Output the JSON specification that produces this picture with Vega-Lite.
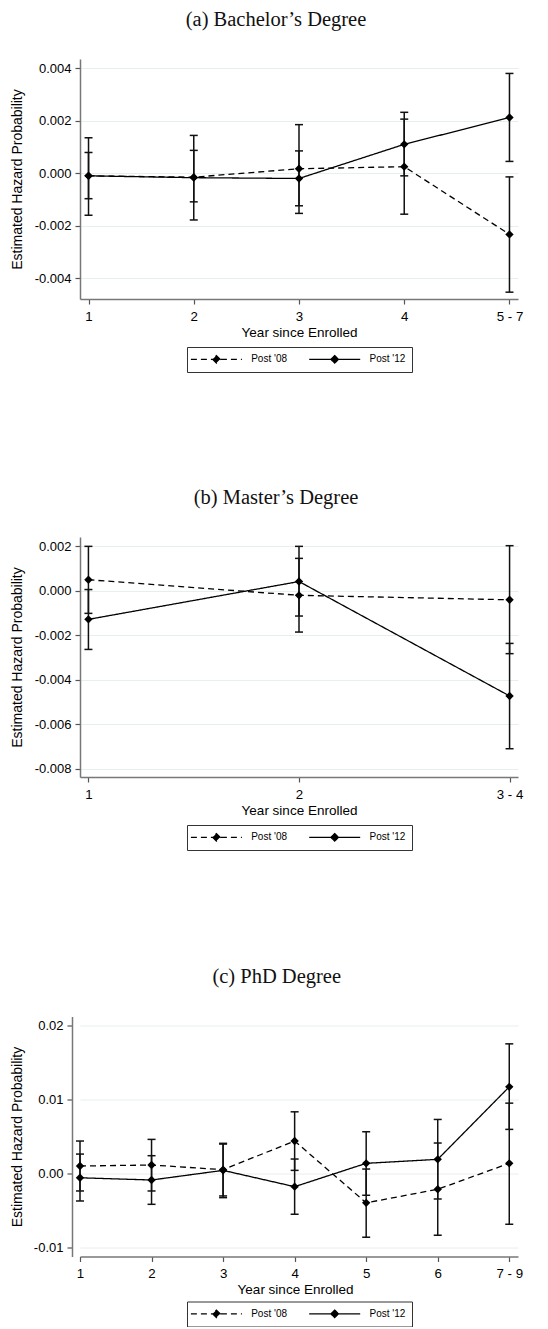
{
  "$schema": "https://vega.github.io/schema/vega-lite/v6.json",
  "padding": {"left": 10, "top": 9, "right": 5, "bottom": 0},
  "datasets": {
    "a": [
      {"year": "1", "series": "Post '08", "est": -0.0001, "lo": -0.00097, "hi": 0.00079},
      {"year": "1", "series": "Post '12", "est": -0.0001, "lo": -0.0016, "hi": 0.00135},
      {"year": "2", "series": "Post '08", "est": -0.00015, "lo": -0.00109, "hi": 0.00087},
      {"year": "2", "series": "Post '12", "est": -0.00017, "lo": -0.00178, "hi": 0.00144},
      {"year": "3", "series": "Post '08", "est": 0.00017, "lo": -0.00153, "hi": 0.00185},
      {"year": "3", "series": "Post '12", "est": -0.0002, "lo": -0.00124, "hi": 0.00085},
      {"year": "4", "series": "Post '08", "est": 0.00025, "lo": -0.00156, "hi": 0.00206},
      {"year": "4", "series": "Post '12", "est": 0.0011, "lo": -0.0001, "hi": 0.00232},
      {"year": "5 - 7", "series": "Post '08", "est": -0.00233, "lo": -0.00453, "hi": -0.00014},
      {"year": "5 - 7", "series": "Post '12", "est": 0.00212, "lo": 0.00045, "hi": 0.0038}
    ],
    "b": [
      {"year": "1", "series": "Post '08", "est": 0.0005, "lo": -0.00101, "hi": 0.002},
      {"year": "1", "series": "Post '12", "est": -0.00128, "lo": -0.00263, "hi": 0.00006},
      {"year": "2", "series": "Post '08", "est": -0.0002, "lo": -0.00185, "hi": 0.00146},
      {"year": "2", "series": "Post '12", "est": 0.00042, "lo": -0.00113, "hi": 0.002},
      {"year": "3 - 4", "series": "Post '08", "est": -0.0004, "lo": -0.00282, "hi": 0.00203},
      {"year": "3 - 4", "series": "Post '12", "est": -0.00472, "lo": -0.00709, "hi": -0.00236}
    ],
    "c": [
      {"year": "1", "series": "Post '08", "est": 0.00099, "lo": -0.00238, "hi": 0.00436},
      {"year": "1", "series": "Post '12", "est": -0.0006, "lo": -0.00373, "hi": 0.0026},
      {"year": "2", "series": "Post '08", "est": 0.00112, "lo": -0.00238, "hi": 0.00458},
      {"year": "2", "series": "Post '12", "est": -0.0009, "lo": -0.00418, "hi": 0.00238},
      {"year": "3", "series": "Post '08", "est": 0.0005, "lo": -0.00305, "hi": 0.00405},
      {"year": "3", "series": "Post '12", "est": 0.0004, "lo": -0.00328, "hi": 0.00395},
      {"year": "4", "series": "Post '08", "est": 0.00436, "lo": 0.0004, "hi": 0.0083},
      {"year": "4", "series": "Post '12", "est": -0.0018, "lo": -0.00552, "hi": 0.00193},
      {"year": "5", "series": "Post '08", "est": -0.00398, "lo": -0.00862, "hi": 0.00058},
      {"year": "5", "series": "Post '12", "est": 0.00135, "lo": -0.00296, "hi": 0.00561},
      {"year": "6", "series": "Post '08", "est": -0.00215, "lo": -0.00835, "hi": 0.00409},
      {"year": "6", "series": "Post '12", "est": 0.00189, "lo": -0.00346, "hi": 0.00727},
      {"year": "7 - 9", "series": "Post '08", "est": 0.00135, "lo": -0.00687, "hi": 0.00947},
      {"year": "7 - 9", "series": "Post '12", "est": 0.01167, "lo": 0.00593, "hi": 0.01747}
    ]
  },
  "concat": [
    {
      "columns": 1,
      "align": "none",
      "spacing": 114,
      "resolve": {"scale": {"strokeDash": "independent"}, "legend": {"strokeDash": "independent"}},
      "concat": [
        {
          "data": {"name": "a"},
          "title": {"text": "(a) Bachelor’s Degree", "dx": -23},
          "width": 438,
          "height": 240,
          "encoding": {
            "x": {"field": "year", "type": "ordinal", "sort": null, "scale": {"type": "point", "padding": 0.081}, "axis": {"title": "Year since Enrolled"}}
          },
          "layer": [
            {"mark": {"type": "rule", "color": "#111", "strokeWidth": 1.5},
             "encoding": {"y": {"field": "lo", "type": "quantitative", "title": "Estimated Hazard Probability", "scale": {"domain": [-0.00479, 0.00435], "nice": false, "zero": false},
               "axis": {"values": [-0.004, -0.002, 0, 0.002, 0.004], "labelExpr": "(datum.value < 0 ? '-' : '') + format(abs(datum.value), '.3f')", "minExtent": 46, "maxExtent": 46}},
               "y2": {"field": "hi"}}},
            {"mark": {"type": "tick", "orient": "horizontal", "color": "#111", "size": 8, "thickness": 1.5, "opacity": 1},
             "encoding": {"y": {"field": "lo", "type": "quantitative", "title": "Estimated Hazard Probability", "scale": {"domain": [-0.00479, 0.00435], "nice": false, "zero": false}}}},
            {"mark": {"type": "tick", "orient": "horizontal", "color": "#111", "size": 8, "thickness": 1.5, "opacity": 1},
             "encoding": {"y": {"field": "hi", "type": "quantitative", "title": "Estimated Hazard Probability", "scale": {"domain": [-0.00479, 0.00435], "nice": false, "zero": false}}}},
            {"mark": {"type": "line", "color": "black", "strokeWidth": 1.3},
             "encoding": {"y": {"field": "est", "type": "quantitative", "title": "Estimated Hazard Probability", "scale": {"domain": [-0.00479, 0.00435], "nice": false, "zero": false}},
               "strokeDash": {"field": "series", "type": "nominal", "scale": {"domain": ["Post '08", "Post '12"], "range": [[6, 4], [1, 0]]}, "legend": {"title": null}}}},
            {"mark": {"type": "point", "shape": "diamond", "filled": true, "size": 70, "color": "black", "opacity": 1},
             "encoding": {"y": {"field": "est", "type": "quantitative", "title": "Estimated Hazard Probability", "scale": {"domain": [-0.00479, 0.00435], "nice": false, "zero": false}}}}
          ]
        },
        {
          "data": {"name": "b"},
          "title": {"text": "(b) Master’s Degree", "dx": -23},
          "width": 438,
          "height": 240,
          "encoding": {
            "x": {"field": "year", "type": "ordinal", "sort": null, "scale": {"type": "point", "padding": 0.04}, "axis": {"title": "Year since Enrolled"}}
          },
          "layer": [
            {"mark": {"type": "rule", "color": "#111", "strokeWidth": 1.5},
             "encoding": {"y": {"field": "lo", "type": "quantitative", "title": "Estimated Hazard Probability", "scale": {"domain": [-0.00836, 0.00242], "nice": false, "zero": false},
               "axis": {"values": [-0.008, -0.006, -0.004, -0.002, 0, 0.002], "labelExpr": "(datum.value < 0 ? '-' : '') + format(abs(datum.value), '.3f')", "minExtent": 46, "maxExtent": 46}},
               "y2": {"field": "hi"}}},
            {"mark": {"type": "tick", "orient": "horizontal", "color": "#111", "size": 8, "thickness": 1.5, "opacity": 1},
             "encoding": {"y": {"field": "lo", "type": "quantitative", "title": "Estimated Hazard Probability", "scale": {"domain": [-0.00836, 0.00242], "nice": false, "zero": false}}}},
            {"mark": {"type": "tick", "orient": "horizontal", "color": "#111", "size": 8, "thickness": 1.5, "opacity": 1},
             "encoding": {"y": {"field": "hi", "type": "quantitative", "title": "Estimated Hazard Probability", "scale": {"domain": [-0.00836, 0.00242], "nice": false, "zero": false}}}},
            {"mark": {"type": "line", "color": "black", "strokeWidth": 1.3},
             "encoding": {"y": {"field": "est", "type": "quantitative", "title": "Estimated Hazard Probability", "scale": {"domain": [-0.00836, 0.00242], "nice": false, "zero": false}},
               "strokeDash": {"field": "series", "type": "nominal", "scale": {"domain": ["Post '08", "Post '12"], "range": [[6, 4], [1, 0]]}, "legend": {"title": null}}}},
            {"mark": {"type": "point", "shape": "diamond", "filled": true, "size": 70, "color": "black", "opacity": 1},
             "encoding": {"y": {"field": "est", "type": "quantitative", "title": "Estimated Hazard Probability", "scale": {"domain": [-0.00836, 0.00242], "nice": false, "zero": false}}}}
          ]
        }
      ]
    },
    {
      "data": {"name": "c"},
      "title": {"text": "(c) PhD Degree", "dx": -22.3},
      "width": 438,
      "height": 240,
      "encoding": {
        "x": {"field": "year", "type": "ordinal", "sort": null, "scale": {"type": "point", "padding": 0.061, "align": 0}, "axis": {"title": "Year since Enrolled", "titleX": 215}}
      },
      "layer": [
        {"mark": {"type": "rule", "color": "#111", "strokeWidth": 1.5},
         "encoding": {"y": {"field": "lo", "type": "quantitative", "title": "Estimated Hazard Probability", "scale": {"domain": [-0.01122, 0.02116], "nice": false, "zero": false},
           "axis": {"values": [-0.01, 0, 0.01, 0.02], "labelExpr": "(datum.value < 0 ? '-' : '') + format(abs(datum.value), '.2f')", "offset": 8, "minExtent": 38, "maxExtent": 38}},
           "y2": {"field": "hi"}}},
        {"mark": {"type": "tick", "orient": "horizontal", "color": "#111", "size": 8, "thickness": 1.5, "opacity": 1},
         "encoding": {"y": {"field": "lo", "type": "quantitative", "title": "Estimated Hazard Probability", "scale": {"domain": [-0.01122, 0.02116], "nice": false, "zero": false}}}},
        {"mark": {"type": "tick", "orient": "horizontal", "color": "#111", "size": 8, "thickness": 1.5, "opacity": 1},
         "encoding": {"y": {"field": "hi", "type": "quantitative", "title": "Estimated Hazard Probability", "scale": {"domain": [-0.01122, 0.02116], "nice": false, "zero": false}}}},
        {"mark": {"type": "line", "color": "black", "strokeWidth": 1.3},
         "encoding": {"y": {"field": "est", "type": "quantitative", "title": "Estimated Hazard Probability", "scale": {"domain": [-0.01122, 0.02116], "nice": false, "zero": false}},
           "strokeDash": {"field": "series", "type": "nominal", "scale": {"domain": ["Post '08", "Post '12"], "range": [[6, 4], [1, 0]]}, "legend": {"title": null, "offset": 5}}}},
        {"mark": {"type": "point", "shape": "diamond", "filled": true, "size": 70, "color": "black", "opacity": 1},
         "encoding": {"y": {"field": "est", "type": "quantitative", "title": "Estimated Hazard Probability", "scale": {"domain": [-0.01122, 0.02116], "nice": false, "zero": false}}}}
      ]
    }
  ],
  "columns": 1,
  "align": "none",
  "spacing": 115.5,
  "resolve": {"scale": {"strokeDash": "independent"}, "legend": {"strokeDash": "independent"}},
  "config": {
    "font": "Liberation Sans",
    "view": {"stroke": null},
    "axis": {
      "domainColor": "#777", "domainWidth": 1.5, "tickColor": "#555", "tickWidth": 1.2, "tickSize": 5,
      "labelColor": "#000", "titleColor": "#000", "labelFont": "Liberation Sans", "titleFont": "Liberation Sans",
      "labelFontSize": 13, "titleFontSize": 13.5, "titleFontWeight": "normal"
    },
    "axisY": {"grid": true, "gridColor": "#e6eeef", "gridWidth": 1, "labelPadding": 4, "titlePadding": 10, "titleFontSize": 14},
    "axisX": {"grid": false, "labelPadding": 5, "titlePadding": 3, "labelAngle": 0, "labelFontSize": 13.3},
    "title": {"font": "Liberation Serif", "fontSize": 20.5, "fontWeight": "normal", "color": "#111", "anchor": "middle", "offset": 28.6},
    "legend": {
      "orient": "bottom",
      "direction": "horizontal",
      "layout": {"bottom": {"anchor": "middle"}},
      "offset": 8,
      "padding": 6,
      "strokeColor": "#333",
      "symbolType": "M-5.1,0L5.1,0M0,-0.75L0.75,0L0,0.75L-0.75,0Z",
      "symbolSize": 100,
      "symbolOffset": 17.4,
      "symbolStrokeWidth": 1.3,
      "symbolStrokeColor": "black",
      "symbolFillColor": "black",
      "labelOffset": 28.8,
      "labelFont": "Liberation Sans",
      "labelFontSize": 10,
      "labelColor": "#000",
      "columnPadding": 18.3
    }
  }
}
